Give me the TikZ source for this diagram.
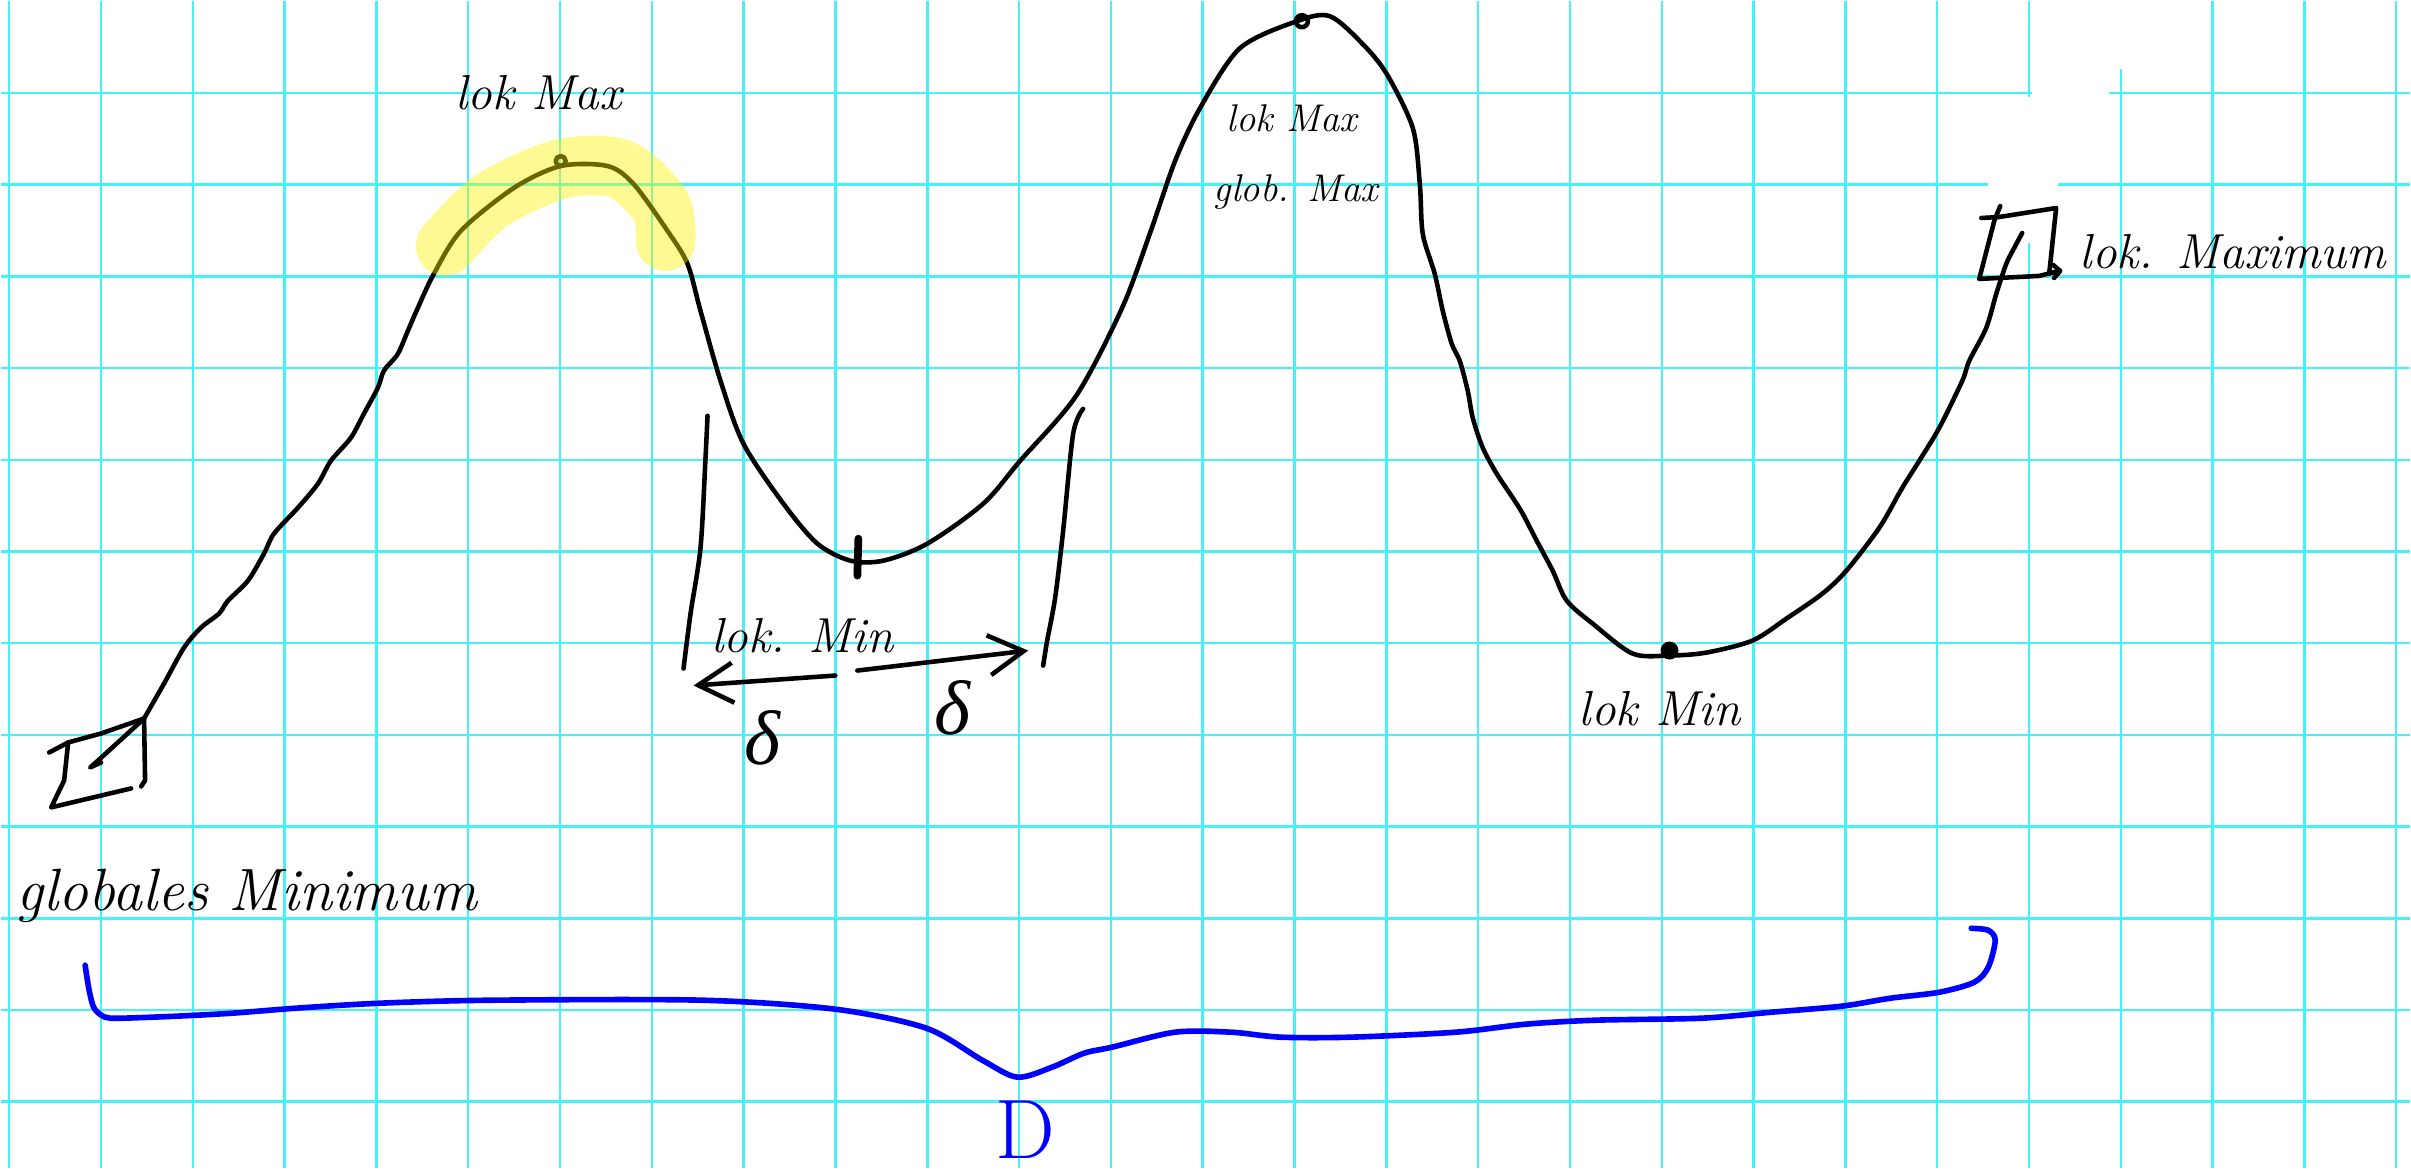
\documentclass[tikz,border=0pt]{standalone}
\usepackage{fontspec}
\newfontfamily\greekfont{Liberation Serif}
\usetikzlibrary{arrows.meta}
\definecolor{paperaqua}{RGB}{70,242,248}

\begin{document}
\begin{tikzpicture}[
    x=0.01cm, y=-0.01cm, % one unit = one pixel of the sheet, y downwards
    >={Straight Barb[length=3.5mm,width=4mm]}, % open hand-drawn tip
    gridline/.style={paperaqua, line width=0.7pt}, % squared paper
    curve/.style={black, line width=1.3pt, line cap=round, line join=round},
    hand/.style={font=\fontsize{14}{16}\selectfont\itshape, inner sep=0pt},
    brace/.style={blue, line width=1.6pt, line cap=round, line join=round}
]

    % Sheet and squared paper
    \fill[white] (0,0) rectangle (2411,1168);
    \foreach \k in {0,...,26}
        \draw[gridline] ({8+91.9*\k},0) -- ({8+91.9*\k},1168);
    \foreach \k in {1,...,12}
        \draw[gridline] (0,{91.8*\k}) -- (2411,{91.8*\k});
    % erased bits of the grid (top right)
    \fill[white] (1989,176) rectangle (2059,190);
    \fill[white] (2033,86) rectangle (2110,98);
    \fill[white] (2024,96) rectangle (2036,242);
    \fill[white] (2116,0) rectangle (2128,68);

    % The function graph (hand drawn)
    \draw[curve] plot [smooth, tension=0.5] coordinates {
        (143,718) (163,683) (183,647) (200,627) (218,613) (227,600)
        (247,580) (263,553) (273,533) (297,507) (317,483) (330,460)
        (350,437) (363,413) (377,387) (383,370) (397,353) (407,330)
        (417,307) (433,273) (460,230) (513,187) (560,165) (607,165)
        (633,183) (667,230) (687,263) (700,310) (720,380) (743,443)
        (783,503) (817,543) (850,560) (883,560) (927,543) (983,503)
        (1020,460) (1076,395) (1122,307) (1150,232) (1175,160)
        (1200,107) (1240,47) (1297,20) (1330,15) (1363,43) (1387,73)
        (1413,127) (1420,183) (1423,233) (1435,273) (1443,310)
        (1452,343) (1460,360) (1468,390) (1473,417) (1483,447)
        (1497,473) (1513,497) (1523,513) (1537,540) (1553,570)
        (1567,600) (1593,623) (1633,653) (1670,655) (1707,652)
        (1753,640) (1787,618) (1823,593) (1847,570) (1880,527)
        (1903,487) (1920,460) (1940,427) (1963,380) (1970,360)
        (1987,327) (1997,293) (2007,263) (2015,247) (2023,232)
    };

    % Little marks on the extrema
    \draw[curve] (560,160) circle (5);
    \draw[curve] (1302,20) circle (6);
    \draw[curve, line width=2.2pt] (858,538) -- (857,575);
    \fill (1670,650) circle (9);

    % Box at the global minimum
    \draw[curve] (48,752) -- (67,742) -- (100,733) -- (143,718) -- (144,780) -- (140,786);
    \draw[curve] (67,742) -- (63,780) -- (50,807) -- (130,788);
    \draw[curve] (143,718) -- (97,760) -- (89,767) -- (100,762);

    % Box at the right end
    \draw[curve] (1982,217) -- (2000,216) -- (2057,207) -- (2050,273);
    \draw[curve] (2001,205) -- (1995,220) -- (1980,278) -- (2040,275) -- (2060,270);
    \draw[curve] (2054,264) -- (2061,270) -- (2055,277);

    % delta-neighbourhood of the local minimum
    \draw[curve] plot [smooth] coordinates {(707,415) (705,457) (700,547) (690,613) (683,668)};
    \draw[curve] plot [smooth] coordinates {(1083,408) (1073,433) (1063,530) (1055,597) (1047,640) (1043,665)};
    \coordinate (dlstart) at (835,675);
    \coordinate (dlend) at (693,685);
    \coordinate (drstart) at (857,670);
    \coordinate (drend) at (1028,650);
    \draw[curve, ->] (dlstart) -- (dlend);
    \draw[curve, ->] (drstart) -- (drend);
    \node[font=\fontsize{22}{24}\selectfont\greekfont\itshape] (deltal) at (762,737) {δ};
    \node[font=\fontsize{22}{24}\selectfont\greekfont\itshape] (deltar) at (952,707) {δ};

    % Highlight of the first peak
    \draw[yellow, opacity=0.42, line width=17pt, line cap=round, line join=round]
        plot [smooth] coordinates {(445,245) (490,200) (560,168) (620,168) (660,205) (665,240)};

    % Labels
    \node[hand, anchor=base] (lokmaxa) at (538,108) {lok Max};
    \node[hand, anchor=base, font=\fontsize{11}{13}\selectfont\itshape] (lokmaxg) at (1292,130) {lok Max};
    \node[hand, anchor=base, font=\fontsize{11}{13}\selectfont\itshape] (globmax) at (1296,200) {glob. Max};
    \node[hand, anchor=base west] (lokmaxb) at (2080,268) {lok. Maximum};
    \node[hand, anchor=base] (lokmina) at (802,652) {lok. Min};
    \node[hand, anchor=base] (lokminb) at (1660,725) {lok Min};
    \node[hand, anchor=base west, font=\fontsize{17}{20}\selectfont\itshape] (globmin) at (15,910) {globales Minimum};

    % Domain brace
    \draw[brace] plot [smooth, tension=0.5] coordinates {
        (84,965) (88,990) (93,1008) (104,1017) (120,1018) (175,1016)
        (231,1013) (295,1008) (379,1003) (491,1000) (702,1000)
        (835,1009) (926,1028) (982,1060) (1017,1077) (1052,1067)
        (1084,1053) (1112,1047) (1175,1032) (1231,1032) (1281,1037)
        (1351,1037) (1456,1032) (1526,1024) (1596,1020) (1702,1018)
        (1772,1012) (1842,1006) (1891,998) (1940,992) (1975,982)
        (1989,967) (1996,940) (1989,930) (1972,928)
    };
    \node[blue, font=\fontsize{24}{26}\selectfont] (dom) at (1025,1130) {D};

\end{tikzpicture}
\end{document}
